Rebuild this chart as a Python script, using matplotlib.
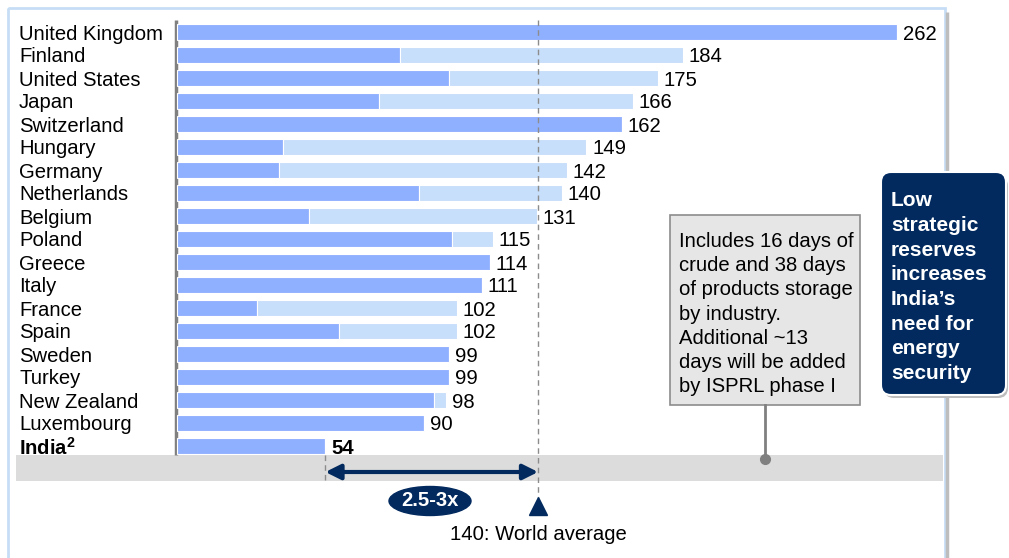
import matplotlib
matplotlib.use("Agg")
import matplotlib.pyplot as plt
from matplotlib.patches import Rectangle, FancyBboxPatch, Ellipse
import matplotlib.transforms as mtransforms

plt.rcParams['font.family'] = ['Liberation Sans', 'DejaVu Sans']
plt.rcParams['mathtext.fontset'] = 'custom'
plt.rcParams['mathtext.rm'] = 'Liberation Sans'
plt.rcParams['mathtext.bf'] = 'Liberation Sans:bold'

# ---- data ----
countries = ["United Kingdom", "Finland", "United States", "Japan", "Switzerland",
             "Hungary", "Germany", "Netherlands", "Belgium", "Poland", "Greece",
             "Italy", "France", "Spain", "Sweden", "Turkey", "New Zealand",
             "Luxembourg", "India"]
totals = [262, 184, 175, 166, 162, 149, 142, 140, 131, 115, 114, 111, 102, 102,
          99, 99, 98, 90, 54]
strategic = [262, 81, 99, 73.5, 162, 38.5, 37, 88, 48, 100, 114, 111, 29, 59,
             99, 99, 93.5, 90, 54]
world_avg_value = 140
world_avg_line = 131.4   # position where the reference draws its dashed line
note_lines = ["Includes 16 days of", "crude and 38 days", "of products storage",
              "by industry.", "Additional ~13", "days will be added",
              "by ISPRL phase I"]
box_lines = ["Low", "strategic", "reserves", "increases", "India\u2019s",
             "need for", "energy", "security"]
ratio_label = "2.5-3x"

DARK = '#8FAFFF'
LIGHT = '#C7DFFA'
NAVY = '#022A5F'
FS = 14.6

W, H = 1009, 558
fig = plt.figure(figsize=(W / 100, H / 100), dpi=100)

# overlay axes in pixel coordinates
ov = fig.add_axes([0, 0, 1, 1], zorder=0)
ov.set_xlim(0, W)
ov.set_ylim(H, 0)
ov.axis('off')

# main bar axes
ax = fig.add_axes([0, 0, 1, 1], zorder=1)
ax.patch.set_alpha(0)
pxu = 2.748
x0px = 177
ax.set_xlim(-x0px / pxu, (W - x0px) / pxu)
row0, rowh = 32, 23
ax.set_ylim((H - row0) / rowh, -row0 / rowh)
ax.axis('off')

bt = mtransforms.blended_transform_factory(ax.transData, ov.transData)
lt = mtransforms.blended_transform_factory(ov.transData, ax.transData)

# outer frame
ov.plot([947, 947], [12, H], color='#BDBDBD', lw=2.5, solid_capstyle='butt')
ov.add_patch(Rectangle((8, 8), 937, 560, fill=False, ec='#C6DDF5', lw=2))

# gray band
ov.add_patch(Rectangle((16, 455), 927, 26, color='#DCDCDC', lw=0, zorder=1))

# bars
ys = list(range(len(countries)))
dark_w = [min(s, t) for s, t in zip(strategic, totals)]
light_w = [t - d for t, d in zip(totals, dark_w)]
ax.barh(ys, dark_w, height=0.68, color=DARK, edgecolor='white', lw=0.8, zorder=2)
ax.barh(ys, light_w, left=dark_w, height=0.68, color=LIGHT, edgecolor='white',
        lw=0.8, zorder=2)

for i, (c, t) in enumerate(zip(countries, totals)):
    india = c == "India"
    ax.annotate(str(t), (t, i), xytext=(4, 0), textcoords='offset points',
                va='center_baseline', ha='left', fontsize=FS,
                fontweight='bold' if india else 'normal', zorder=5)
    lab = r'India$^{\mathbf{2}}$' if india else c
    ax.text(19, i, lab, transform=lt, va='center_baseline', ha='left', fontsize=FS,
            fontweight='bold' if india else 'normal')

# vertical axis line
ov.plot([176, 176], [20, 455], color='#808080', lw=2.5, solid_capstyle='butt', zorder=3)

# world average dashed line
ax.plot([world_avg_line, world_avg_line], [20, 497], transform=bt, color='#8C8C8C',
        lw=1, ls=(0, (4, 3)), zorder=3)
ax.plot([totals[-1], totals[-1]], [455, 481], transform=bt, color='#8C8C8C',
        lw=1, ls=(0, (4, 3)), zorder=3)

# double arrow
ax.annotate('', xy=(world_avg_line, 472), xytext=(totals[-1], 472),
            xycoords=bt, textcoords=bt,
            arrowprops=dict(arrowstyle='<|-|>,head_length=0.9,head_width=0.45',
                            color=NAVY, lw=3, shrinkA=0, shrinkB=0), zorder=4)

# ratio ellipse
ov.add_patch(Ellipse((430, 501), 82, 29, color=NAVY, zorder=4))
ov.text(430, 501, ratio_label, color='white', fontsize=FS, fontweight='bold',
        ha='center', va='center', zorder=5)

# world average triangle + label
ax.plot([world_avg_line], [506], transform=bt, marker='^', ms=13, color=NAVY,
        ls='none', zorder=4)
ax.text(world_avg_line, 535, f"{world_avg_value}: World average", transform=bt,
        ha='center', va='center', fontsize=FS)

# note box
ov.add_patch(Rectangle((670, 215), 190, 190, fc='#E6E6E6', ec='#8C8C8C', lw=1.2, zorder=3))
for k, line in enumerate(note_lines):
    ov.text(679, 239.5 + k * 24.2, line, ha='left', va='center_baseline', fontsize=FS, zorder=4)
ov.plot([765, 765], [405, 459], color='#808080', lw=2, zorder=3)
ov.plot([765], [459], marker='o', ms=7, color='#808080', zorder=3)

# dark message box
ov.add_patch(FancyBboxPatch((884, 176), 124, 222, boxstyle='round,pad=0,rounding_size=10',
                            fc='#BDBDBD', ec='none', zorder=3))
ov.add_patch(FancyBboxPatch((881, 172), 125, 223, boxstyle='round,pad=0,rounding_size=10',
                            fc=NAVY, ec='white', lw=1.5, zorder=4))
for k, line in enumerate(box_lines):
    ov.text(891, 199 + k * 24.6, line, ha='left', va='center_baseline', fontsize=15,
            fontweight='bold', color='white', zorder=5)

fig.savefig('out.png', dpi=100)
